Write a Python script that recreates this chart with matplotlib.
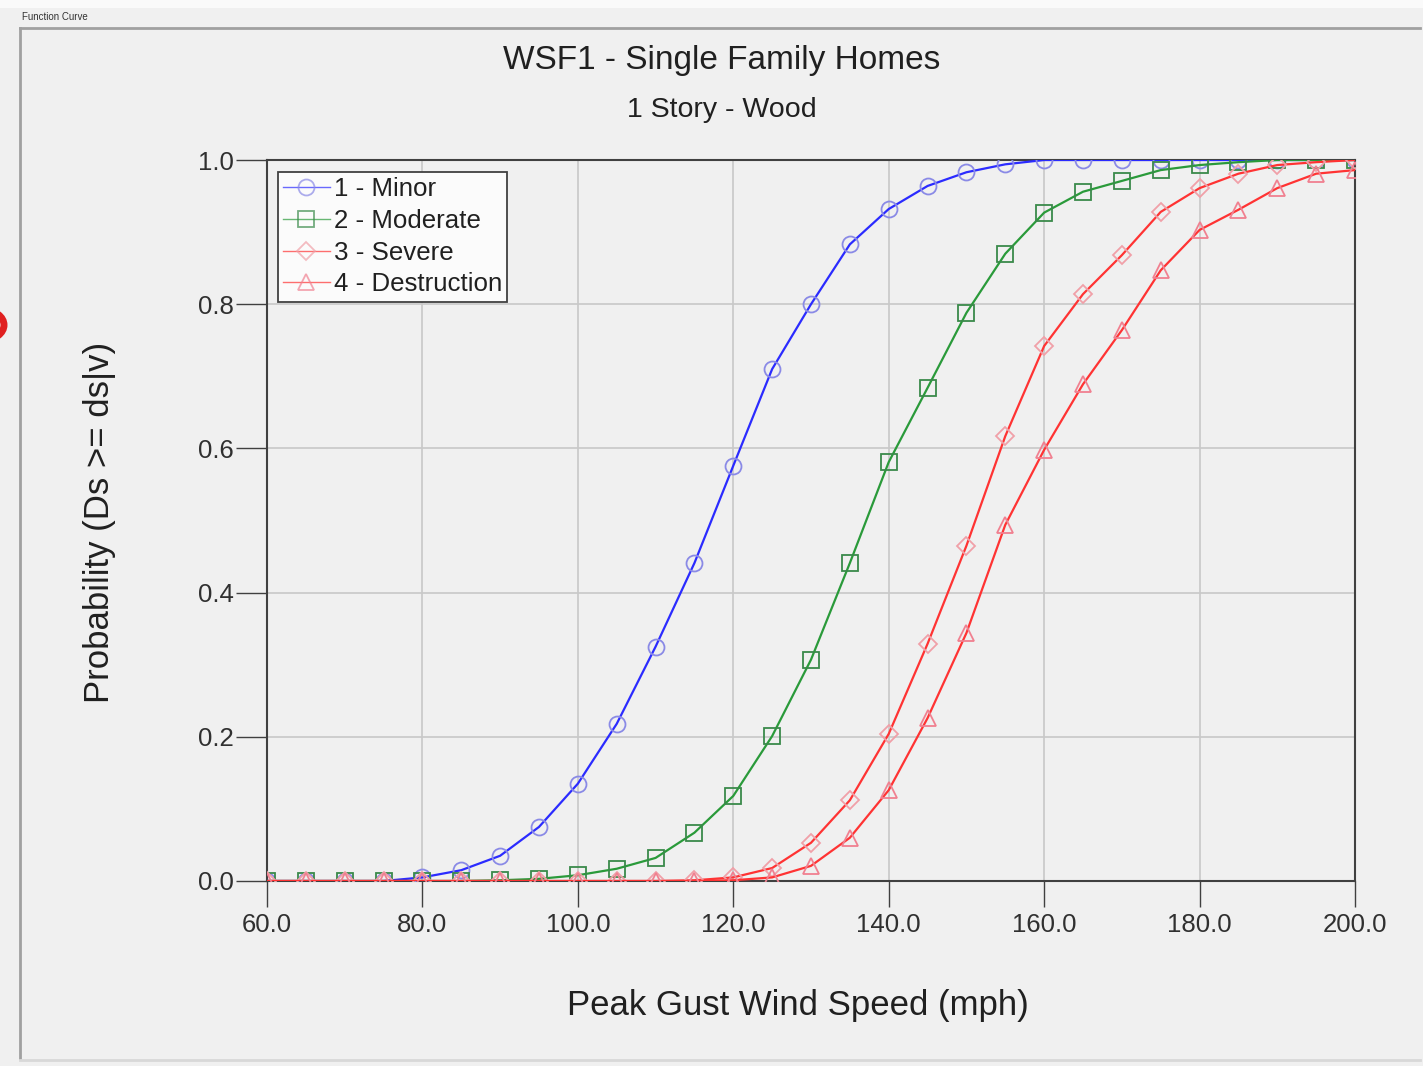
import matplotlib
matplotlib.use("Agg")
import matplotlib.pyplot as plt
from matplotlib.lines import Line2D
from matplotlib.patches import Rectangle, Circle

plt.rcParams['font.family'] = ['Liberation Sans', 'DejaVu Sans']

speed = [60, 65, 70, 75, 80, 85, 90, 95, 100, 105, 110, 115, 120, 125, 130,
         135, 140, 145, 150, 155, 160, 165, 170, 175, 180, 185, 190, 195, 200]

minor = [0.0, 0.0, 0.0, 0.0, 0.005, 0.015, 0.035, 0.075, 0.135, 0.218, 0.325,
         0.441, 0.576, 0.710, 0.800, 0.883, 0.932, 0.964, 0.983, 0.994, 1.0,
         1.0, 1.0, 1.0, 1.0, 1.0, 1.0, 1.0, 1.0]
moderate = [0.0, 0.0, 0.0, 0.0, 0.0, 0.0, 0.001, 0.003, 0.008, 0.017, 0.032,
            0.067, 0.118, 0.201, 0.307, 0.441, 0.581, 0.684, 0.788, 0.870,
            0.927, 0.956, 0.971, 0.986, 0.993, 0.997, 1.0, 1.0, 1.0]
severe = [0.0, 0.0, 0.0, 0.0, 0.0, 0.0, 0.0, 0.0, 0.0, 0.0, 0.0, 0.001, 0.005,
          0.018, 0.053, 0.112, 0.204, 0.329, 0.465, 0.617, 0.742, 0.814,
          0.868, 0.928, 0.961, 0.981, 0.993, 0.997, 1.0]
destruction = [0.0, 0.0, 0.0, 0.0, 0.0, 0.0, 0.0, 0.0, 0.0, 0.0, 0.0, 0.0,
               0.001, 0.005, 0.021, 0.060, 0.126, 0.226, 0.344, 0.494, 0.598,
               0.689, 0.764, 0.847, 0.903, 0.931, 0.961, 0.981, 0.986]

labels = ["1 - Minor", "2 - Moderate", "3 - Severe", "4 - Destruction"]
xticks = [60, 80, 100, 120, 140, 160, 180, 200]
yticks = [0.0, 0.2, 0.4, 0.6, 0.8, 1.0]

title = "WSF1 - Single Family Homes"
subtitle = "1 Story - Wood"
xlabel = "Peak Gust Wind Speed (mph)"
ylabel = "Probability (Ds >= ds|v)"

W, H = 1423, 1066
fig = plt.figure(figsize=(W / 100, H / 100), dpi=100)
fig.patch.set_facecolor('#f0f0f0')

# window / group-box frame
fig.add_artist(Rectangle((0, 1 - 8 / H), 1, 8 / H, transform=fig.transFigure,
                         facecolor='#fafafa', edgecolor='none', zorder=0))
fig.add_artist(Line2D([20 / W, 1420 / W], [1 - 28 / H, 1 - 28 / H],
                      transform=fig.transFigure, color='#a0a0a0', lw=2))
fig.add_artist(Line2D([20 / W, 20 / W], [1 - 28 / H, 1 - 1058 / H],
                      transform=fig.transFigure, color='#a0a0a0', lw=2))
fig.add_artist(Line2D([20 / W, 1420 / W], [1 - 1060 / H, 1 - 1060 / H],
                      transform=fig.transFigure, color='#d8d8d8', lw=2))
fig.text(22 / W, 1 - 17 / H, "Function Curve", fontsize=7, color='#333333',
         va='center', ha='left')
# red circle artifact at left edge
fig.add_artist(Circle((-16 / W, 1 - 325 / H), 20 / W, transform=fig.transFigure,
                      facecolor='none', edgecolor='#e02020', lw=5, clip_on=True))

ax = fig.add_axes([267 / W, 1 - 881 / H, (1355 - 267) / W, (881 - 160) / H])
ax.set_facecolor('#f0f0f0')

styles = [
    (minor, '#2b2bff', 'o', '#8a8ae6', 11.5),
    (moderate, '#2a9a3a', 's', '#3a8a4a', 11),
    (severe, '#ff3333', 'D', '#f0a0a8', 9),
    (destruction, '#ff3333', '^', '#f08090', 11),
]
for (vals, lc, mk, mec, ms), lab in zip(styles, labels):
    ax.plot(speed, vals, color=lc, lw=1.6, marker=mk, ms=ms,
            markerfacecolor='none', markeredgecolor=mec, markeredgewidth=1.3,
            label=lab, zorder=3)

ax.set_xlim(60, 200)
ax.set_ylim(0, 1.0)
ax.set_xticks(xticks)
ax.set_xticklabels([f"{v:.1f}" for v in xticks])
ax.set_yticks(yticks)
ax.set_yticklabels([f"{v:.1f}" for v in yticks])
ax.tick_params(axis='x', direction='out', length=19, width=1,
               color='#404040', labelsize=18.5, labelcolor='#303030', pad=4)
ax.tick_params(axis='y', direction='out', length=22, width=1,
               color='#404040', labelsize=18.5, labelcolor='#303030', pad=2)
ax.grid(True, color='#c8c8c8', lw=1.2, zorder=0)
ax.set_axisbelow(True)
for s in ax.spines.values():
    s.set_color('#404040')
    s.set_linewidth(1.5)

ax.set_xlabel(xlabel, fontsize=25, color='#202020')
ax.xaxis.set_label_coords((798 - 267) / 1088, -(1006 - 881) / 721)
ax.xaxis.label.set_va('center')
ax.set_ylabel(ylabel, fontsize=25, color='#202020')
ax.yaxis.set_label_coords(-(267 - 100) / 1088, (881 - 522) / 721)
ax.yaxis.label.set_va('center')

fig.text(722 / W, 1 - 61 / H, title, fontsize=24, ha='center', va='center',
         color='#202020')
fig.text(722 / W, 1 - 110 / H, subtitle, fontsize=20.5, ha='center', va='center',
         color='#202020')

leg = ax.legend(loc='upper left', bbox_to_anchor=(11 / 1088, 1 - 12 / 721),
                fontsize=18.6, frameon=True, fancybox=False, borderpad=0.2,
                labelspacing=0.3, handlelength=1.8, handletextpad=0.15,
                borderaxespad=0)
leg.get_frame().set_edgecolor('#404040')
leg.get_frame().set_linewidth(1.3)
leg.get_frame().set_facecolor('#fbfbfb')
leg.get_frame().set_alpha(1)
for txt in leg.get_texts():
    txt.set_color('#202020')
for h in leg.get_lines():
    h.set_linewidth(1.0)
    h.set_alpha(0.7)

fig.savefig("out.png", dpi=100, facecolor=fig.get_facecolor())
